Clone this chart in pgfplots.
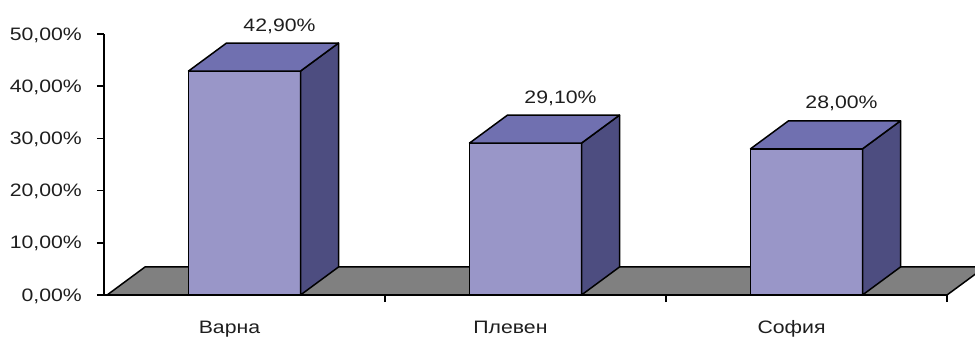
\documentclass[border=0pt]{standalone}
\usepackage{fontspec}
\setmainfont{Liberation Sans}[FakeStretch=1.18]
\usepackage{pgfplots}
\pgfplotsset{compat=1.18}
\usepackage{pgfplotstable}

\definecolor{barfront}{RGB}{153,150,200}
\definecolor{bartop}{RGB}{112,112,176}
\definecolor{barside}{RGB}{77,77,128}
\definecolor{floorgray}{RGB}{128,128,128}
\definecolor{labeltext}{RGB}{30,30,30}

% share per city (percent)
\pgfplotstableread{
x value
0 42.9
1 29.1
2 28.0
}\shares

% geometry of the 3D boxes (pt); \yunit must equal the axis y= unit
\newcommand\yunit{5.22}
\newcommand\halfbar{56}
\newcommand\depthx{38}
\newcommand\depthy{28}

% right side and top of a box, drawn from the top-front centre of the bar
\pgfdeclareplotmark{box3d}{%
  \pgfmathsetmacro\barh{\val*\yunit}%
  \pgfsetlinewidth{1.5pt}\pgfsetroundjoin
  \pgfsetstrokecolor{black}%
  % side face
  \pgfpathmoveto{\pgfpoint{\halfbar pt}{0pt}}%
  \pgfpathlineto{\pgfpoint{\halfbar pt+\depthx pt}{\depthy pt}}%
  \pgfpathlineto{\pgfpoint{\halfbar pt+\depthx pt}{\depthy pt-\barh pt}}%
  \pgfpathlineto{\pgfpoint{\halfbar pt}{-\barh pt}}%
  \pgfpathclose
  \pgfsetfillcolor{barside}%
  \pgfusepath{fill,stroke}%
  % top face
  \pgfpathmoveto{\pgfpoint{-\halfbar pt}{0pt}}%
  \pgfpathlineto{\pgfpoint{\halfbar pt}{0pt}}%
  \pgfpathlineto{\pgfpoint{\halfbar pt+\depthx pt}{\depthy pt}}%
  \pgfpathlineto{\pgfpoint{-\halfbar pt+\depthx pt}{\depthy pt}}%
  \pgfpathclose
  \pgfsetfillcolor{bartop}%
  \pgfusepath{fill,stroke}%
}

\begin{document}
\fontsize{18}{21}\selectfont
\begin{tikzpicture}
\useasboundingbox (-104pt,-42pt) rectangle (871pt,295pt);
\begin{axis}[
  x=281pt, y=5.22pt,
  xmin=-0.5, xmax=2.5, ymin=0, ymax=50,
  axis lines=left,
  axis line style={-, line width=1.5pt, black},
  clip=false,
  tick style={black, line width=1.5pt},
  tick align=outside,
  major tick length=7pt,
  /pgf/number format/assume math mode=true,
  ytick={0,10,...,50},
  yticklabel={\pgfmathprintnumber[fixed,fixed zerofill,precision=2,use comma]{\tick}\%},
  yticklabel style={xshift=-9pt, yshift=-1pt},
  xtick={0.5,1.5,2.5},
  xticklabels={},
  extra x ticks={0,1,2},
  extra x tick labels={Варна,Плевен,София},
  extra x tick style={major tick length=0pt,
    xticklabel style={anchor=base, xshift=-15pt, yshift=-38pt}},
  tick label style={font=\fontsize{18}{21}\selectfont, text=labeltext},
]
% floor of the chart
\draw[fill=floorgray, line width=1.5pt, line join=round]
  (axis cs:-0.489,0) -- (axis cs:2.5,0) -- ++(\depthx pt,\depthy pt)
  -- ++(-840pt,0pt) -- cycle;

% side and top faces of each bar
\addplot[scatter, only marks, mark=box3d,
  scatter/use mapped color={draw=black, fill=barside},
  visualization depends on={\thisrow{value} \as \val}]
  table[x=x, y=value] {\shares};

% front faces with value labels
\addplot[ybar, bar width=112pt, fill=barfront, draw=black, line width=1.5pt,
  nodes near coords={\pgfmathprintnumber[fixed,fixed zerofill,precision=2,use comma]{\pgfplotspointmeta}\%},
  point meta=y,
  every node near coord/.append style={anchor=center, xshift=35pt, yshift=45pt,
    font=\fontsize{18}{21}\selectfont, text=labeltext}]
  table[x=x, y=value] {\shares};
\end{axis}
\end{tikzpicture}
\end{document}
